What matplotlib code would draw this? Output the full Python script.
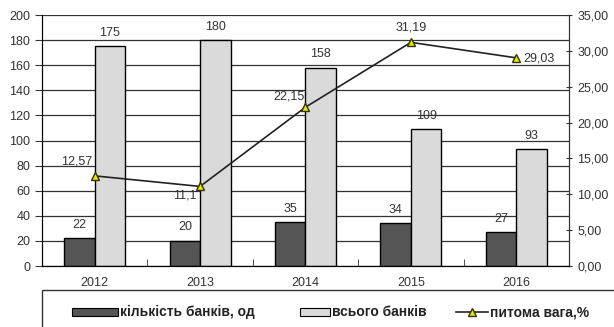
import numpy as np
import matplotlib.pyplot as plt
from matplotlib.patches import Rectangle

years = ['2012', '2013', '2014', '2015', '2016']
banks_count = [22, 20, 35, 34, 27]
banks_total = [175, 180, 158, 109, 93]
share = [12.57, 11.1, 22.15, 31.19, 29.03]
share_labels = ['12,57', '11,1', '22,15', '31,19', '29,03']

plt.rcParams['font.family'] = ['Liberation Sans', 'DejaVu Sans']

fig = plt.figure(figsize=(6.14, 3.27), dpi=100)
ax = fig.add_axes([0.0684, 0.1865, 0.8583, 0.7675])
x = np.arange(len(years))
w = 0.29

ax.bar(x - w/2, banks_count, w, color='#555555', edgecolor='black', linewidth=1.0, zorder=2)
ax.bar(x + w/2, banks_total, w, color='#dadada', edgecolor='black', linewidth=1.0, zorder=2)
for xi, v in zip(x, banks_count):
    ax.text(xi - w/2, v + 6, str(v), ha='center', va='bottom', fontsize=9, color='#333333')
for xi, v in zip(x, banks_total):
    ax.text(xi + w/2, v + 6, str(v), ha='center', va='bottom', fontsize=9, color='#333333')

ax.set_xlim(-0.5, 4.5)
ax.set_ylim(0, 200)
ax.set_yticks(range(0, 201, 20))
ax.set_xticks(x)
ax.set_xticklabels(years)
ax.set_xticks(np.arange(-0.5, 4.6, 1), minor=True)
ax.tick_params(axis='x', which='major', length=0, pad=8)
ax.tick_params(axis='x', which='minor', length=5, direction='in', color='#333333')
ax.tick_params(axis='both', labelsize=9, labelcolor='#333333')
ax.tick_params(axis='y', length=5, direction='out', color='#333333')
ax.grid(axis='y', color='#333333', linewidth=0.9, zorder=0)
ax.set_axisbelow(True)
for s in ['top']:
    ax.spines[s].set_visible(False)
for s in ['left', 'bottom', 'right']:
    ax.spines[s].set_color('#333333')

ax2 = ax.twinx()
ax2.set_ylim(0, 35)
ax2.set_yticks(range(0, 36, 5))
ax2.set_yticklabels(['%d,00' % v for v in range(0, 36, 5)])
ax2.tick_params(axis='y', labelsize=9, labelcolor='#333333', length=5, direction='inout', color='#333333')
ax2.spines['top'].set_visible(False)
ax2.spines['right'].set_color('#333333')
ax2.plot(x, share, color='#222222', linewidth=1.2, marker='^', markersize=6,
         markerfacecolor='#e6e600', markeredgecolor='#333300', zorder=3)
offsets = [(-0.02, 1.2, 'right', 'bottom'), (-0.03, -0.4, 'right', 'top'), (-0.01, 0.7, 'right', 'bottom'),
           (0, 1.3, 'center', 'bottom'), (0.07, -0.9, 'left', 'bottom')]
for xi, v, lab, (dx, dy, ha, va) in zip(x, share, share_labels, offsets):
    ax2.text(xi + dx, v + dy, lab, ha=ha, va=va, fontsize=9, color='#333333')

# legend box at the bottom
fig.patches.append(Rectangle((0.0684, -0.05), 1.0, 0.163, transform=fig.transFigure,
                             facecolor='white', edgecolor='#333333', linewidth=1.0))
hy = 0.045
fig.patches.append(Rectangle((0.117, hy - 0.012), 0.075, 0.026, transform=fig.transFigure,
                             facecolor='#555555', edgecolor='black', linewidth=0.8))
fig.text(0.196, hy, 'кількість банків, од', fontsize=10, fontweight='bold', va='center', color='#222222')
fig.patches.append(Rectangle((0.488, hy - 0.012), 0.05, 0.026, transform=fig.transFigure,
                             facecolor='#dadada', edgecolor='black', linewidth=0.8))
fig.text(0.540, hy, 'всього банків', fontsize=10, fontweight='bold', va='center', color='#222222')
fig.lines.append(plt.Line2D([0.742, 0.795], [hy, hy], transform=fig.transFigure, color='#222222',
                            linewidth=1.2, marker='^', markevery=[1], markersize=6,
                            markerfacecolor='#e6e600', markeredgecolor='#333300'))
fig.lines[-1].set_data([0.742, 0.7685, 0.795], [hy, hy, hy])
fig.text(0.798, hy, 'питома вага,%', fontsize=10, fontweight='bold', va='center', color='#222222')

fig.savefig('out.png', dpi=100)
